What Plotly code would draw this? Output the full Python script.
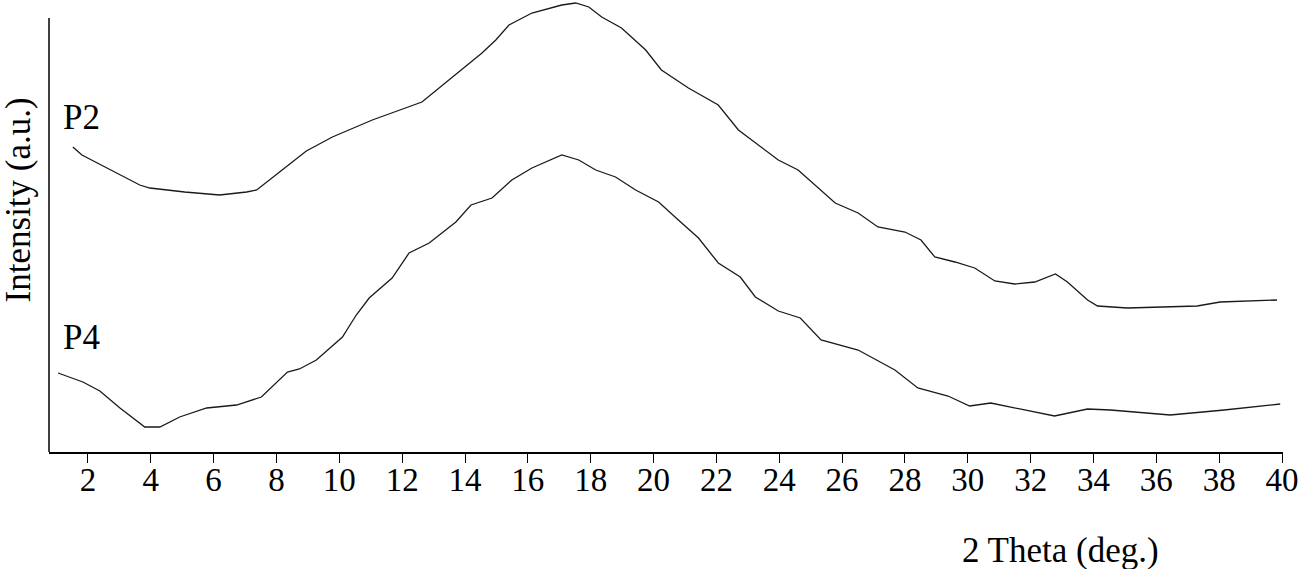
import plotly.graph_objects as go

# 2 Theta (deg.) and intensity (a.u.)
p2_theta = [1.52, 1.81, 3.65, 3.97, 5.08, 6.19, 7.05, 7.37, 8.10, 8.95, 9.78, 11.05, 12.63,
            13.17, 13.81, 14.54, 14.98, 15.40, 16.13, 17.08, 17.52, 17.94, 18.35, 18.98,
            19.75, 20.25, 21.11, 22.06, 22.70, 23.97, 24.60, 25.78, 26.51, 27.14, 28.0,
            28.51, 28.95, 29.59, 30.22, 30.86, 31.49, 32.13, 32.79, 33.17, 33.81, 34.13,
            35.08, 36.67, 37.30, 38.03, 39.84]
p2_int = [305, 297, 267, 264, 260, 257, 260, 262, 280, 301, 315, 332, 350,
          364, 380, 399, 412, 427, 439, 447, 449, 445, 435, 424,
          402, 382, 364, 347, 322, 292, 282, 249, 239, 225, 220,
          212, 195, 190, 184, 171, 168, 170, 178, 170, 152, 146,
          144, 145, 146, 150, 152]

p4_theta = [1.05, 1.84, 2.38, 3.02, 3.81, 4.29, 4.92, 5.78, 6.73, 7.52, 8.35, 8.73, 9.27,
            10.10, 10.54, 10.95, 11.68, 12.22, 12.86, 13.71, 14.19, 14.86, 15.49, 16.13,
            17.08, 17.62, 18.16, 18.79, 19.43, 20.16, 20.79, 21.43, 22.06, 22.76, 23.24,
            23.97, 24.67, 25.33, 26.51, 27.68, 28.41, 29.37, 30.06, 30.73, 32.76, 33.81,
            34.54, 36.44, 38.16, 39.94]
p4_int = [79, 70, 61, 44, 25, 25, 35, 44, 47, 55, 80, 83, 92,
          115, 137, 154, 174, 199, 209, 230, 247, 254, 272, 284,
          297, 292, 282, 275, 262, 250, 232, 214, 189, 175, 155,
          141, 134, 112, 102, 82, 64, 56, 46, 49, 36, 43,
          42, 37, 42, 48]

tick_vals = list(range(2, 41, 2))
tick_text = [str(v) for v in tick_vals]

FONT = "Liberation Serif"
FS = 35
TICK_FS = 33
line_style = dict(color="#1a1a1a", width=1.3)

fig = go.Figure()
fig.add_trace(go.Scatter(x=p2_theta, y=p2_int, mode="lines", line=line_style,
                         name="P2", showlegend=False, hoverinfo="skip"))
fig.add_trace(go.Scatter(x=p4_theta, y=p4_int, mode="lines", line=line_style,
                         name="P4", showlegend=False, hoverinfo="skip"))

fig.update_layout(
    width=1299, height=569,
    margin=dict(l=49, r=13, t=0, b=117),
    paper_bgcolor="white", plot_bgcolor="white",
    font=dict(family=FONT, color="black", size=FS),
    xaxis=dict(range=[0.762, 40.03], tickvals=tick_vals, ticktext=tick_text,
               showline=True, linecolor="black", linewidth=1.5,
               ticks="outside", ticklen=9, tickwidth=1.3, tickcolor="black",
               ticklabelstandoff=-11, ticklabeloverflow="allow",
               showgrid=False, zeroline=False,
               tickfont=dict(family=FONT, size=TICK_FS, color="black")),
    yaxis=dict(range=[0, 452], showticklabels=False, showgrid=False,
               zeroline=False, showline=False, ticks=""),
    shapes=[dict(type="line", xref="paper", yref="y", x0=0, x1=0, y0=0, y1=434,
                 line=dict(color="black", width=1.5))],
    annotations=[
        dict(text="P2", x=1.81, y=335, xref="x", yref="y", showarrow=False,
             xanchor="center", yanchor="middle",
             font=dict(family=FONT, size=FS, color="black")),
        dict(text="P4", x=1.81, y=115, xref="x", yref="y", showarrow=False,
             xanchor="center", yanchor="middle",
             font=dict(family=FONT, size=FS, color="black")),
        dict(text="2 Theta (deg.)", x=0.82, y=-0.217, xref="paper", yref="paper",
             showarrow=False, xanchor="center", yanchor="middle",
             font=dict(family=FONT, size=FS, color="black")),
        dict(text="Intensity (a.u.)", x=-0.025, y=0.557, xref="paper", yref="paper",
             showarrow=False, textangle=-90, xanchor="center", yanchor="middle",
             font=dict(family=FONT, size=FS, color="black")),
    ],
)

fig.write_html("out.html", config={"displayModeBar": False},
               post_script="document.body.style.margin='0';")
